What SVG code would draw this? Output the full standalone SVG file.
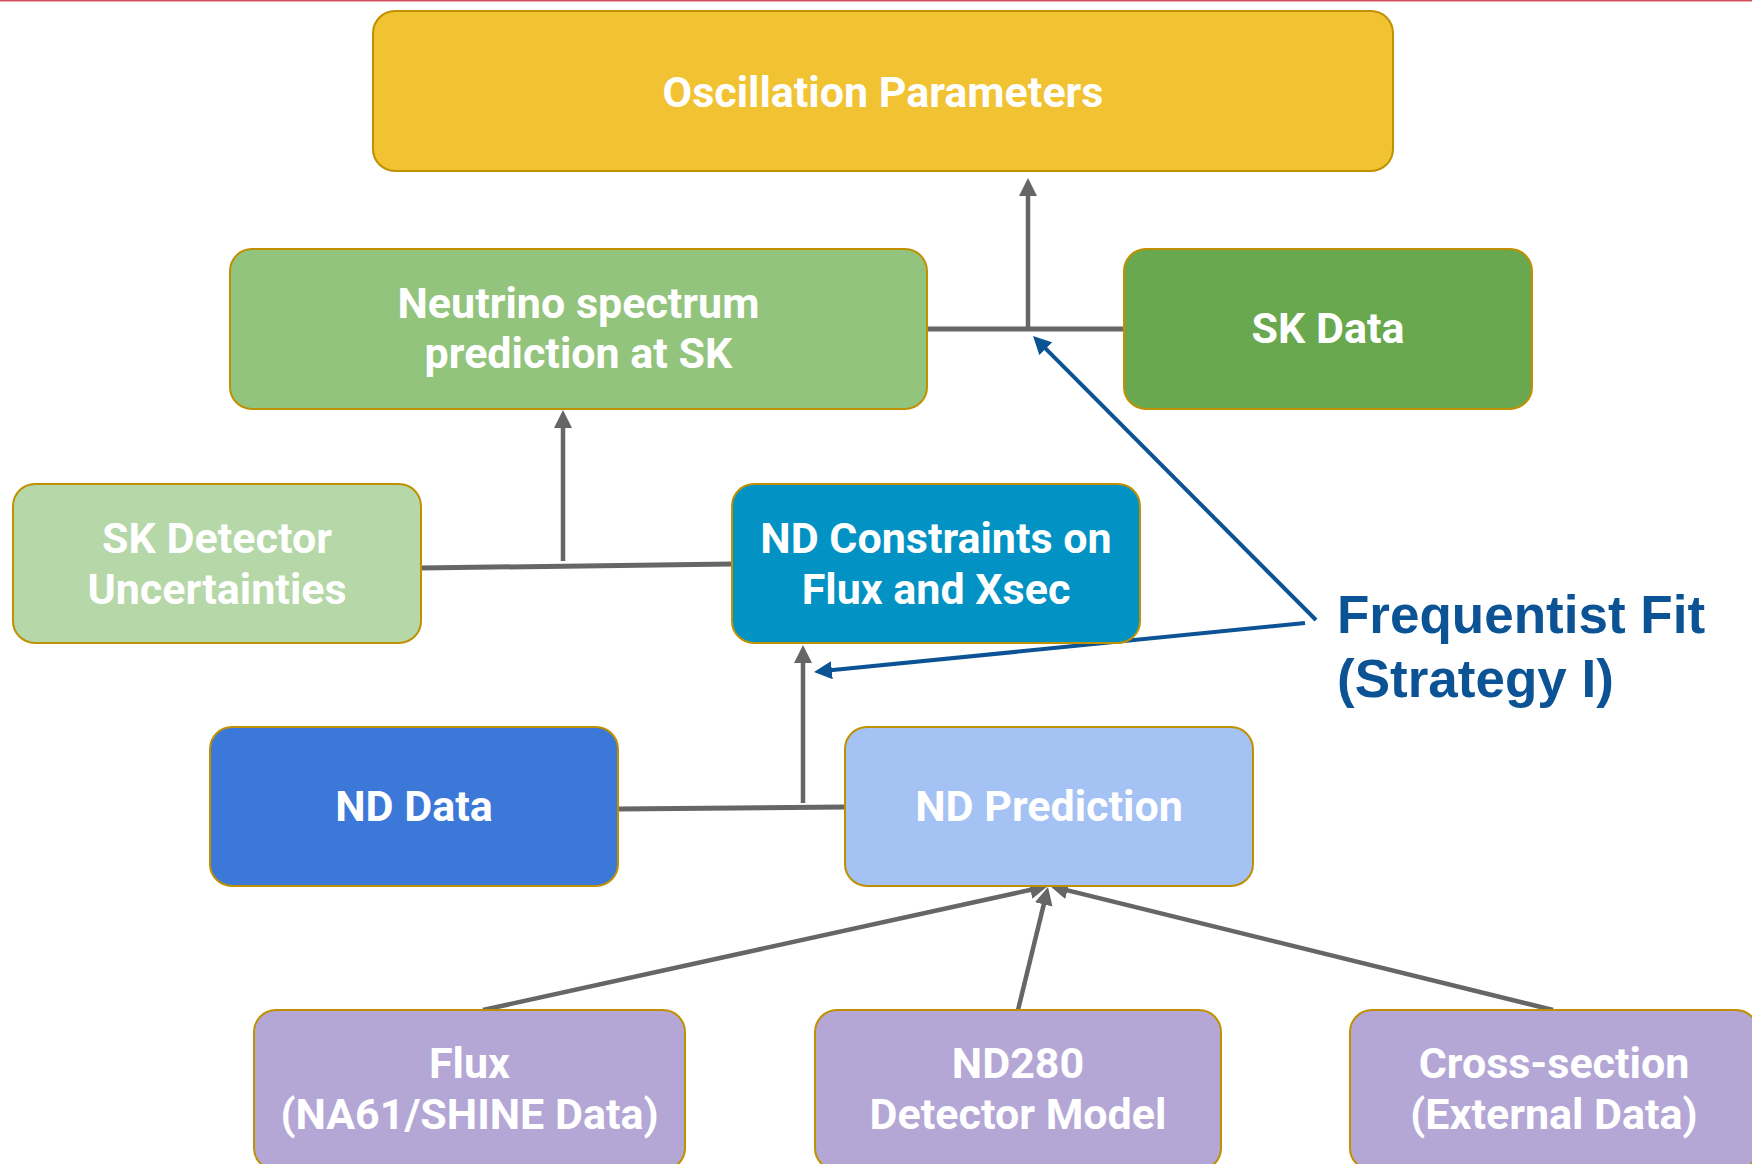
<svg xmlns="http://www.w3.org/2000/svg" width="1752" height="1164" viewBox="0 0 1752 1164">
  <defs>
    <style>
      .box { stroke: #bf9000; stroke-width: 2; }
      .lbl { font-family: Roboto, "Liberation Sans", sans-serif; font-weight: bold; font-size: 43px; fill: #ffffff; text-anchor: middle; }
      .conn { stroke: #666666; stroke-width: 5; fill: none; }
      .arr { stroke: #666666; stroke-width: 4.5; fill: none; marker-end: url(#gh); }
      .blue { stroke: #0b5394; stroke-width: 4; fill: none; marker-end: url(#bh); }
      .note { font-family: "Liberation Sans", Arial, sans-serif; font-weight: bold; font-size: 53px; fill: #0b5394; }
    </style>
    <marker id="gh" markerUnits="userSpaceOnUse" markerWidth="18" markerHeight="18" refX="4" refY="9" orient="auto" viewBox="0 0 18 18">
      <path d="M0,0 L18,9 L0,18 z" fill="#666666"/>
    </marker>
    <marker id="bh" markerUnits="userSpaceOnUse" markerWidth="18" markerHeight="18" refX="4" refY="9" orient="auto" viewBox="0 0 18 18">
      <path d="M0,0 L18,9 L0,18 z" fill="#0b5394"/>
    </marker>
  </defs>
  <rect width="1752" height="1164" fill="#ffffff"/>
  <line x1="0" y1="0.5" x2="1752" y2="0.5" stroke="#d0505e" stroke-width="2"/>

  <g id="connectors">
    <line class="conn" x1="927" y1="329" x2="1124" y2="329"/>
    <line class="arr" x1="1028" y1="329" x2="1028" y2="192"/>
    <line class="conn" x1="421" y1="568" x2="732" y2="564"/>
    <line class="arr" x1="563" y1="561" x2="563" y2="424"/>
    <line class="conn" x1="618" y1="809" x2="845" y2="807"/>
    <line class="arr" x1="803" y1="803" x2="803" y2="659"/>
    <line class="arr" x1="483" y1="1010" x2="1034.3" y2="889"/>
    <line class="arr" x1="1018" y1="1010" x2="1044.7" y2="900.6"/>
    <line class="arr" x1="1553" y1="1010" x2="1063.6" y2="889.4"/>
    <line class="blue" x1="1316" y1="620" x2="1042.9" y2="345.9"/>
    <line class="blue" x1="1305" y1="623" x2="827.9" y2="670.6"/>
  </g>

  <g id="osc">
    <rect class="box" x="373" y="11" width="1020" height="160" rx="22" fill="#f1c232"/>
    <text class="lbl" x="883" y="107">Oscillation Parameters</text>
  </g>
  <g id="nsp">
    <rect class="box" x="230" y="249" width="697" height="160" rx="22" fill="#93c47d"/>
    <text class="lbl" x="578.5" y="318">Neutrino spectrum</text>
    <text class="lbl" x="578.5" y="368">prediction at SK</text>
  </g>
  <g id="skdata">
    <rect class="box" x="1124" y="249" width="408" height="160" rx="22" fill="#6aa84f"/>
    <text class="lbl" x="1328" y="343">SK Data</text>
  </g>
  <g id="skdet">
    <rect class="box" x="13" y="484" width="408" height="159" rx="22" fill="#b6d7a8"/>
    <text class="lbl" x="217" y="553">SK Detector</text>
    <text class="lbl" x="217" y="604">Uncertainties</text>
  </g>
  <g id="ndc">
    <rect class="box" x="732" y="484" width="408" height="159" rx="22" fill="#0392c4"/>
    <text class="lbl" x="936" y="553">ND Constraints on</text>
    <text class="lbl" x="936" y="604">Flux and Xsec</text>
  </g>
  <g id="nddata">
    <rect class="box" x="210" y="727" width="408" height="159" rx="22" fill="#3c78d8"/>
    <text class="lbl" x="414" y="821">ND Data</text>
  </g>
  <g id="ndpred">
    <rect class="box" x="845" y="727" width="408" height="159" rx="22" fill="#a4c2f4"/>
    <text class="lbl" x="1049" y="821">ND Prediction</text>
  </g>
  <g id="flux">
    <rect class="box" x="254" y="1010" width="431" height="160" rx="22" fill="#b4a7d6"/>
    <text class="lbl" x="469.5" y="1078">Flux</text>
    <text class="lbl" x="469.5" y="1129">(NA61/SHINE Data)</text>
  </g>
  <g id="nd280">
    <rect class="box" x="815" y="1010" width="406" height="160" rx="22" fill="#b4a7d6"/>
    <text class="lbl" x="1018" y="1078">ND280</text>
    <text class="lbl" x="1018" y="1129">Detector Model</text>
  </g>
  <g id="xsec">
    <rect class="box" x="1350" y="1010" width="408" height="160" rx="22" fill="#b4a7d6"/>
    <text class="lbl" x="1554" y="1078">Cross-section</text>
    <text class="lbl" x="1554" y="1129">(External Data)</text>
  </g>
  <g id="fit">
    <text class="note" x="1337" y="633">Frequentist Fit</text>
    <text class="note" x="1337" y="697">(Strategy I)</text>
  </g>
</svg>
